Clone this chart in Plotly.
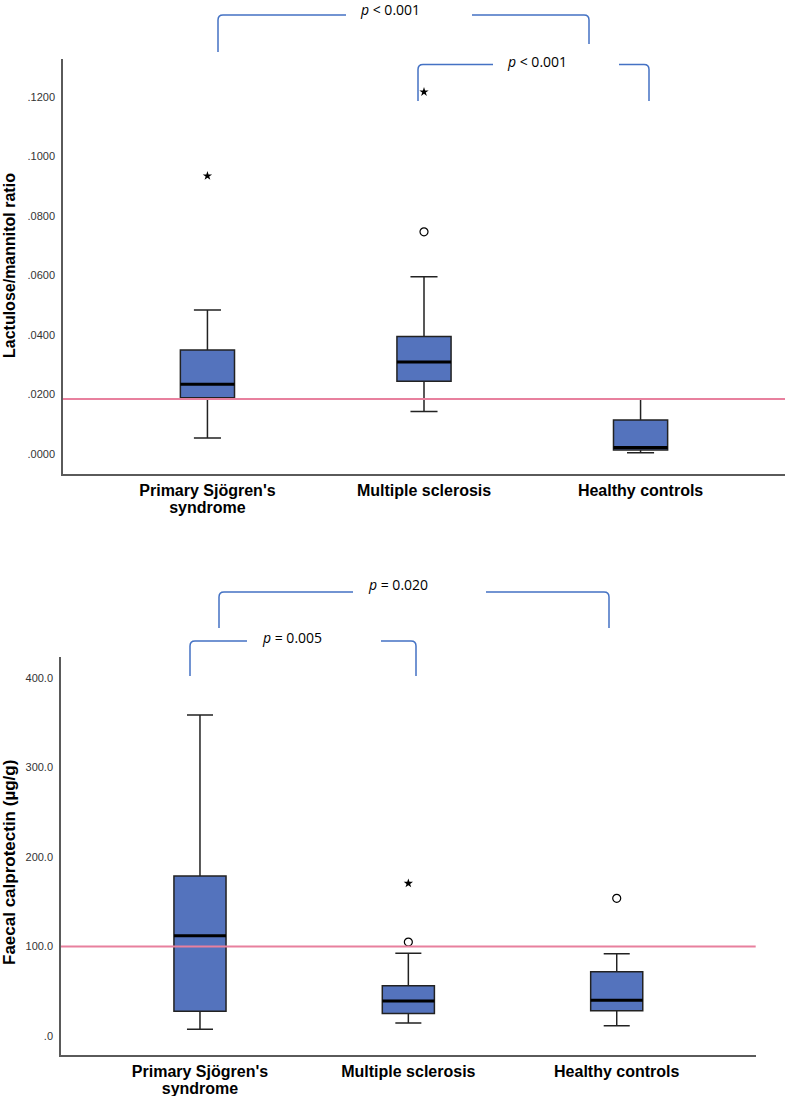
import plotly.graph_objects as go

W, H = 787, 1096

# ---------------- data ----------------
cat_line1 = ["Primary Sjögren's", "Multiple sclerosis", "Healthy controls"]
cat_line2 = ["syndrome", "", ""]
cat_pos = [0, 1, 2]

# Lactulose/mannitol ratio
lm_q1 = [0.0189, 0.0244, 0.0013]
lm_median = [0.0234, 0.0309, 0.0022]
lm_q3 = [0.0349, 0.0395, 0.0114]
lm_low = [0.0054, 0.0143, 0.0004]
lm_high = [0.0484, 0.0595, 0.0185]
lm_circle_x = [1]
lm_circle_y = [0.0746]
lm_star_x = [0, 1]
lm_star_y = [0.0934, 0.1216]
lm_ref = 0.0185
lm_tickvals = [0.0, 0.02, 0.04, 0.06, 0.08, 0.10, 0.12]
lm_ticktext = [".0000", ".0200", ".0400", ".0600", ".0800", ".1000", ".1200"]

# Faecal calprotectin
fc_q1 = [27.6, 25.3, 28.3]
fc_median = [112.0, 39.1, 39.9]
fc_q3 = [178.8, 56.2, 71.9]
fc_low = [7.5, 14.5, 11.5]
fc_high = [358.7, 92.4, 92.0]
fc_circle_x = [1, 2]
fc_circle_y = [105.0, 153.8]
fc_star_x = [1]
fc_star_y = [170.6]
fc_ref = 100.0
fc_tickvals = [0, 100, 200, 300, 400]
fc_ticktext = [".0", "100.0", "200.0", "300.0", "400.0"]

# significance labels
top_pvals = ["<i>p</i> &lt; 0.001", "<i>p</i> &lt; 0.001"]
bot_pvals = ["<i>p</i> = 0.020", "<i>p</i> = 0.005"]

# ---------------- style ----------------
BOX_FILL = "#5473BD"
BOX_LINE = "#222222"
REF_COLOR = "#E8809E"
BRACKET_COLOR = "#4472C4"
BOX_W = 0.25


def px(x):
    return x / W


def py(y):
    return 1 - y / H


fig = go.Figure()


def add_panel(xa, ya, q1, med, q3, lo, hi, cx, cy, sx, sy):
    fig.add_trace(go.Box(
        x=cat_pos, q1=q1, median=med, q3=q3, lowerfence=lo, upperfence=hi,
        width=BOX_W, whiskerwidth=0.5, fillcolor=BOX_FILL,
        line=dict(color=BOX_LINE, width=1.5), boxpoints=False,
        xaxis=xa, yaxis=ya, showlegend=False, hoverinfo="skip"))
    mx, my = [], []
    for p, m in zip(cat_pos, med):
        mx += [p - BOX_W / 2, p + BOX_W / 2, None]
        my += [m, m, None]
    fig.add_trace(go.Scatter(x=mx, y=my, mode="lines",
                             line=dict(color="black", width=3),
                             xaxis=xa, yaxis=ya, showlegend=False, hoverinfo="skip"))
    fig.add_trace(go.Scatter(x=cx, y=cy, mode="markers",
                             marker=dict(symbol="circle-open", size=8, color="black",
                                         line=dict(width=1.2, color="black")),
                             xaxis=xa, yaxis=ya, showlegend=False, hoverinfo="skip"))
    fig.add_trace(go.Scatter(x=sx, y=sy, mode="markers",
                             marker=dict(symbol="star", size=7, color="black"),
                             xaxis=xa, yaxis=ya, showlegend=False, hoverinfo="skip"))


add_panel("x", "y", lm_q1, lm_median, lm_q3, lm_low, lm_high,
          lm_circle_x, lm_circle_y, lm_star_x, lm_star_y)
add_panel("x2", "y2", fc_q1, fc_median, fc_q3, fc_low, fc_high,
          fc_circle_x, fc_circle_y, fc_star_x, fc_star_y)

# invisible traces that carry the second line of the category labels
fig.add_trace(go.Scatter(x=cat_pos, y=[None] * 3, xaxis="x3", yaxis="y",
                         showlegend=False, hoverinfo="skip"))
fig.add_trace(go.Scatter(x=cat_pos, y=[None] * 3, xaxis="x4", yaxis="y2",
                         showlegend=False, hoverinfo="skip"))

# reference lines
fig.add_shape(type="line", xref="x domain", yref="y", x0=0, x1=1, y0=lm_ref, y1=lm_ref,
              line=dict(color=REF_COLOR, width=2))
fig.add_shape(type="line", xref="x2 domain", yref="y2", x0=0, x1=1, y0=fc_ref, y1=fc_ref,
              line=dict(color=REF_COLOR, width=2))


def bracket(xL, yLb, yTop, g1, g2, xR, yRb, r=5):
    left = (f"M {px(xL)},{py(yLb)} L {px(xL)},{py(yTop + r)} "
            f"Q {px(xL)},{py(yTop)} {px(xL + r)},{py(yTop)} L {px(g1)},{py(yTop)}")
    right = (f"M {px(g2)},{py(yTop)} L {px(xR - r)},{py(yTop)} "
             f"Q {px(xR)},{py(yTop)} {px(xR)},{py(yTop + r)} L {px(xR)},{py(yRb)}")
    for p in (left, right):
        fig.add_shape(type="path", xref="paper", yref="paper", path=p,
                      line=dict(color=BRACKET_COLOR, width=1.5))


def ptext(txt, x, y):
    fig.add_annotation(text=txt, xref="paper", yref="paper", x=px(x), y=py(y),
                       xanchor="center", yanchor="middle", showarrow=False,
                       font=dict(family="Open Sans", size=14, color="black"))


bracket(218, 52, 15, 346, 472, 589, 44)
ptext(top_pvals[0], 390, 9)
bracket(418, 101, 64.5, 493, 619, 649, 101)
ptext(top_pvals[1], 537, 61)
bracket(219, 628, 592, 353, 486, 609, 628)
ptext(bot_pvals[0], 398, 584)
bracket(190, 676, 641, 247, 381, 416, 676)
ptext(bot_pvals[1], 292, 637)

# y axis titles
fig.add_annotation(text="<b>Lactulose/mannitol ratio</b>", xref="paper", yref="paper",
                   x=px(9), y=py(266), textangle=-90, showarrow=False,
                   xanchor="center", yanchor="middle",
                   font=dict(family="Liberation Sans", size=16, color="black"))
fig.add_annotation(text="<b>Faecal calprotectin (µg/g)</b>", xref="paper", yref="paper",
                   x=px(9), y=py(863), textangle=-90, showarrow=False,
                   xanchor="center", yanchor="middle",
                   font=dict(family="Liberation Sans", size=17, color="black"))

axis_common = dict(showgrid=False, zeroline=False, showline=True, linecolor="#5a5a5a",
                   linewidth=1.5, ticks="", automargin=False)
xtick_font = dict(family="Liberation Sans", size=16, color="black")
ytick_font = dict(family="Liberation Sans", size=11, color="#333333")

line1 = [f"<b>{c}</b>" for c in cat_line1]
line2 = [f"<b>{c}</b>" if c else "" for c in cat_line2]

top_xdom = [px(63), px(785)]
bot_xdom = [px(61), px(755.7)]
xrange_ = [-0.667, 2.667]

fig.update_layout(
    width=W, height=H, margin=dict(l=0, r=0, t=0, b=0),
    paper_bgcolor="white", plot_bgcolor="white",
    xaxis=dict(domain=top_xdom, range=xrange_, anchor="y",
               tickvals=cat_pos, ticktext=line1, tickfont=xtick_font,
               ticklabelstandoff=1, **axis_common),
    xaxis3=dict(domain=top_xdom, range=xrange_, anchor="y", overlaying="x",
                tickvals=cat_pos, ticktext=line2, tickfont=xtick_font,
                ticklabelstandoff=22, showgrid=False, zeroline=False, showline=False,
                ticks="", automargin=False),
    yaxis=dict(domain=[py(474), py(59)], range=[-0.00672, 0.13266], anchor="x",
               tickvals=lm_tickvals, ticktext=lm_ticktext, tickfont=ytick_font,
               ticklabelstandoff=4, **axis_common),
    xaxis2=dict(domain=bot_xdom, range=xrange_, anchor="y2",
                tickvals=cat_pos, ticktext=line1, tickfont=xtick_font,
                ticklabelstandoff=1, **axis_common),
    xaxis4=dict(domain=bot_xdom, range=xrange_, anchor="y2", overlaying="x2",
                tickvals=cat_pos, ticktext=line2, tickfont=xtick_font,
                ticklabelstandoff=22, showgrid=False, zeroline=False, showline=False,
                ticks="", automargin=False),
    yaxis2=dict(domain=[py(1055), py(656.7)], range=[-21.2, 423.8], anchor="x2",
                tickvals=fc_tickvals, ticktext=fc_ticktext, tickfont=ytick_font,
                ticklabelstandoff=4, **axis_common),
)

fig.write_html("out.html", config={"displayModeBar": False},
               post_script="document.body.style.margin='0';document.body.style.overflow='hidden';")
